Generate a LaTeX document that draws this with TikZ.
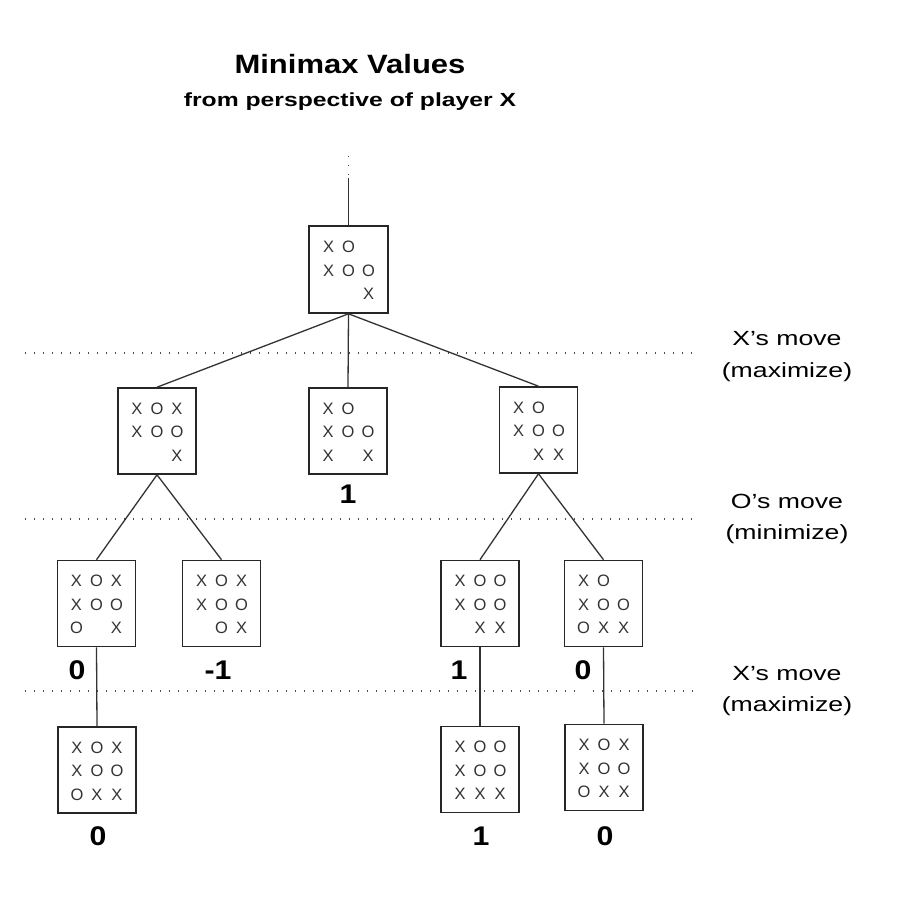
\documentclass[tikz,border=0pt]{standalone}
\usepackage{fontspec}
\setmainfont{Liberation Sans}
\newfontfamily\titlefont[FakeStretch=1.17]{Liberation Sans}
\newfontfamily\subfont[FakeStretch=1.3]{Liberation Sans}
\newfontfamily\sidefont[FakeStretch=1.3]{Liberation Sans}
\newfontfamily\numfont[FakeStretch=1.12]{Liberation Sans}
\usetikzlibrary{calc}
\tikzset{
  boardbox/.style={draw=black!85, line width=1.6bp, minimum width=78bp, minimum height=86bp, inner sep=0pt},
  cell/.style={inner sep=0pt, text=black!80, font=\fontsize{16.5bp}{16.5bp}\selectfont},
  edge/.style={draw=black!80, line width=1.3bp},
  sep/.style={draw=black!70, line width=1.3bp, dash pattern=on 1.4bp off 7.6bp},
  valuelbl/.style={anchor=base, inner sep=0pt, font=\numfont\bfseries\fontsize{27bp}{27bp}\selectfont},
  sidelbl/.style={anchor=base, inner sep=0pt, font=\sidefont\fontsize{20.5bp}{20.5bp}\selectfont}
}
\newcommand\tttboard[2]{%
  \foreach \cellc [count=\ci from 0] in {#2} {
    \pgfmathtruncatemacro\colc{mod(\ci,3)}
    \pgfmathtruncatemacro\rowc{div(\ci,3)}
    \node[cell] at ($(#1.center)+(\colc*20-20, \rowc*23.5-22.5)$) {\cellc};
  }}
\begin{document}
\begin{tikzpicture}[x=1bp, y=-1bp]
\useasboundingbox[fill=white] (0,0) rectangle (918,918);

% title
\node[anchor=base, inner sep=0pt, font=\titlefont\bfseries\fontsize{26.5bp}{26.5bp}\selectfont] (title) at (350,73) {Minimax Values};
\node[anchor=base, inner sep=0pt, font=\subfont\bfseries\fontsize{19bp}{19bp}\selectfont] (subtitle) at (350,106) {from perspective of player X};

% separators
\coordinate (s1a) at (25,353); \coordinate (s1b) at (697,353);
\coordinate (s2a) at (25,519); \coordinate (s2b) at (697,519);
\coordinate (s3a) at (25,691); \coordinate (s3g1) at (578,691);
\coordinate (s3g2) at (593,691); \coordinate (s3b) at (697,691);
\draw[sep] (s1a) -- (s1b);
\draw[sep] (s2a) -- (s2b);
\draw[sep] (s3a) -- (s3g1);
\draw[sep] (s3g2) -- (s3b);

% side labels
\node[sidelbl] (l1a) at (787,345) {X’s move};
\node[sidelbl] (l1b) at (787,377) {(maximize)};
\node[sidelbl] (l2a) at (787,508) {O’s move};
\node[sidelbl] (l2b) at (787,539) {(minimize)};
\node[sidelbl] (l3a) at (787,680) {X’s move};
\node[sidelbl] (l3b) at (787,711) {(maximize)};

% boards
\node[boardbox, minimum width=79bp, minimum height=87bp] (root) at (348.5,269.5) {};
\node[boardbox] (A) at (157,431) {};
\node[boardbox] (B) at (348,431) {};
\node[boardbox] (C) at (538.5,430) {};
\node[boardbox] (AA) at (96.5,603.5) {};
\node[boardbox] (AB) at (221.5,603.5) {};
\node[boardbox] (CA) at (480,603.5) {};
\node[boardbox] (CB) at (603.5,603.5) {};
\node[boardbox] (AAA) at (97,770) {};
\node[boardbox] (CAA) at (480,769.5) {};
\node[boardbox] (CBA) at (604,767.5) {};

\tttboard{root}{X,O, ,X,O,O, , ,X}
\tttboard{A}{X,O,X,X,O,O, , ,X}
\tttboard{B}{X,O, ,X,O,O,X, ,X}
\tttboard{C}{X,O, ,X,O,O, ,X,X}
\tttboard{AA}{X,O,X,X,O,O,O, ,X}
\tttboard{AB}{X,O,X,X,O,O, ,O,X}
\tttboard{CA}{X,O,O,X,O,O, ,X,X}
\tttboard{CB}{X,O, ,X,O,O,O,X,X}
\tttboard{AAA}{X,O,X,X,O,O,O,X,X}
\tttboard{CAA}{X,O,O,X,O,O,X,X,X}
\tttboard{CBA}{X,O,X,X,O,O,O,X,X}

% top stub
\coordinate (stubmid) at (348.5,178);
\coordinate (stubtop) at (348.5,148);
\coordinate (stubdot) at (348.5,175);
\draw[edge] (root.north) -- (stubmid);
\draw[sep] (stubdot) -- (stubtop);

% connectors
\draw[edge] (root.south) -- (A.north);
\draw[edge] (root.south) -- (B.north);
\draw[edge] (root.south) -- (C.north);
\draw[edge] (A.south) -- (AA.north);
\draw[edge] (A.south) -- (AB.north);
\draw[edge] (C.south) -- (CA.north);
\draw[edge] (C.south) -- (CB.north);
\draw[edge] (AA.south) -- (AAA.north);
\draw[edge] (CA.south) -- (CAA.north);
\draw[edge] (CB.south) -- (CBA.north);

% values
\node[valuelbl] (vB) at (348,503) {1};
\node[valuelbl] (vAA) at (77,679) {0};
\node[valuelbl] (vAB) at (218,679) {-1};
\node[valuelbl] (vCA) at (459,679) {1};
\node[valuelbl] (vCB) at (583,679) {0};
\node[valuelbl] (vAAA) at (98,845) {0};
\node[valuelbl] (vCAA) at (481,845) {1};
\node[valuelbl] (vCBA) at (605,845) {0};
\end{tikzpicture}
\end{document}
